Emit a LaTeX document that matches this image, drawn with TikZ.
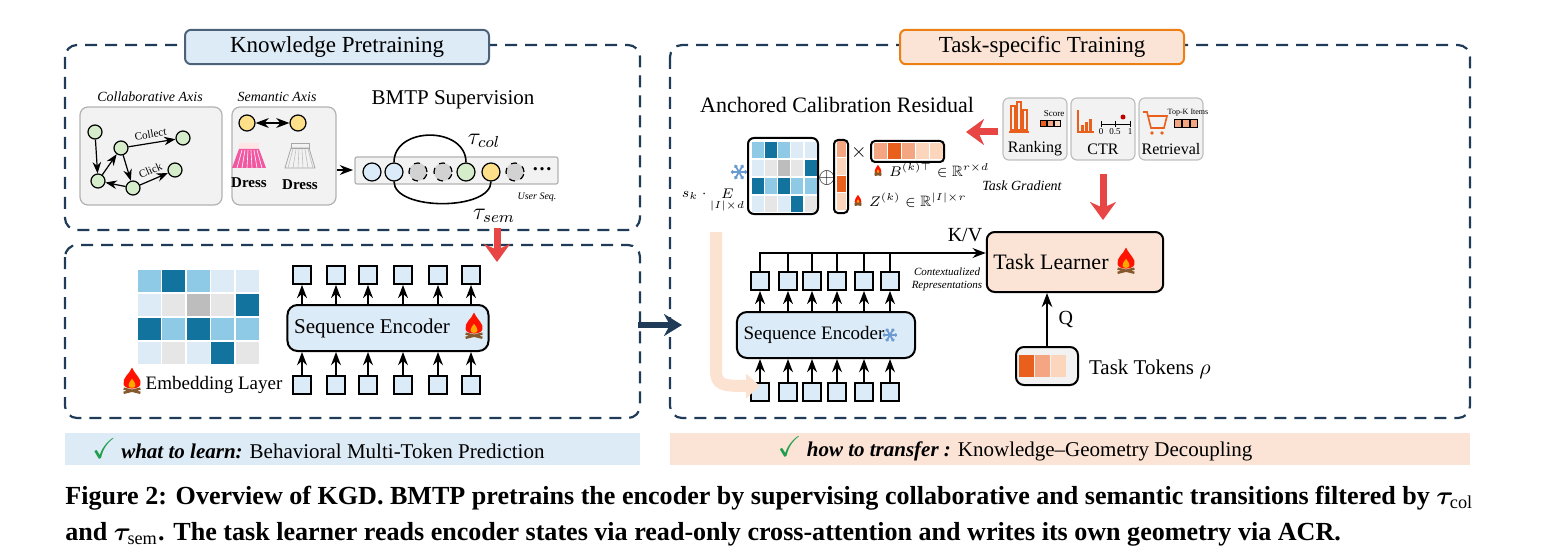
\documentclass[tikz,border=0pt]{standalone}
\usepackage{amsmath, amssymb, bm}
\usepackage{fontspec}
\setmainfont{Liberation Serif}
\usetikzlibrary{positioning, arrows.meta}
\definecolor{navy}{HTML}{1F3B57}
\definecolor{tokblue}{HTML}{DCEBF8}
\definecolor{cA}{HTML}{8ECAE6}
\definecolor{cB}{HTML}{12739E}
\definecolor{cV}{HTML}{DDEBF7}
\definecolor{cG}{HTML}{E6E6E6}
\definecolor{cM}{HTML}{BDBDBD}
\definecolor{peach}{HTML}{FBD5BC}
\definecolor{midor}{HTML}{F4A582}
\definecolor{deepor}{HTML}{E8601C}
\definecolor{salmon}{HTML}{FBE3D6}
\definecolor{redarr}{HTML}{E84545}
\definecolor{itemgreen}{HTML}{D5EDCB}
\definecolor{itemyellow}{HTML}{FFE08A}
\definecolor{snow}{HTML}{6C9BD2}
\definecolor{panelgray}{HTML}{F2F2F2}
\definecolor{checkgreen}{HTML}{1E9E4A}
\newcommand{\redR}{\mathbb{R}}
\newcommand{\padR}[1]{\rule{#1}{0pt}}

\tikzset{
  panel/.style={draw=navy, line width=1.1pt, dash pattern=on 6pt off 4pt, rounded corners=6pt},
  tok/.style={draw, line width=0.9pt, fill=tokblue, minimum size=9pt, inner sep=0pt},
  enc/.style={draw, rounded corners=5pt, fill=tokblue, line width=1pt, font=\fontsize{10.5}{12}\selectfont},
  item/.style={circle, draw, line width=0.6pt, minimum size=9pt, inner sep=0pt},
  axis/.style={draw=gray!60, fill=panelgray, rounded corners=4pt, line width=0.6pt},
  taskbox/.style={draw=gray!50, fill=panelgray, rounded corners=3pt, line width=0.6pt, minimum width=32pt, minimum height=31pt},
  bigred/.style={draw=redarr, line width=3.5pt, -{Stealth[length=9pt, width=13pt]}},
  sm/.style={font=\fontsize{5.5}{6}\selectfont},
  pics/fire/.style={code={
    \begin{scope}[scale=1.4]
    \fill[red!85!orange] (0,-11) .. controls (-2,-6) and (-7,-4) .. (-6,1) .. controls (-5,5) and (5,5) .. (6,1) .. controls (7,-3) and (3,-5) .. (0,-11);
    \fill[orange!70!yellow] (0,-3) .. controls (-1,-1) and (-3,0) .. (-2.5,2) .. controls (-2,4) and (2,4) .. (2.5,2) .. controls (3,0) and (1,-1) .. (0,-3);
    \draw[brown!70!black, line width=1.2pt] (-6,7) -- (6,4) (-6,4) -- (6,7);
    \end{scope}
  }},
  pics/flake/.style={code={
    \foreach \a in {0,60,...,300} {
      \draw[snow, line width=0.9pt] (0,0) -- (\a:8);
      \draw[snow, line width=0.6pt] (\a:5) -- ++(\a+40:2.5) (\a:5) -- ++(\a-40:2.5);
    }
  }},
}

\begin{document}
\begin{tikzpicture}[x=0.5pt, y=-0.5pt, >=Stealth]
  \useasboundingbox (0,0) rectangle (1543,556);

  % panels
  \draw[panel] (65,45) rectangle (640,230);
  \draw[panel] (65,245) rectangle (640,418);
  \draw[panel] (670,45) rectangle (1470,418);
  \node[draw=navy!80, fill=cV, rounded corners=3pt, line width=1pt, minimum width=152pt, minimum height=16pt, font=\fontsize{11.5}{13}\selectfont] (titleL) at (337,47) {Knowledge Pretraining};
  \node[draw=orange!70!brown, fill=salmon, rounded corners=3pt, line width=1pt, minimum width=142pt, minimum height=16pt, font=\fontsize{11.5}{13}\selectfont] (titleR) at (1042,47) {Task-specific Training};

  % collaborative axis
  \draw[axis] (80,107) rectangle (222,205);
  \draw[axis] (232,107) rectangle (336,205);
  \node[font=\fontsize{7}{8}\selectfont\itshape] (collab) at (150,97) {Collaborative Axis};
  \node[font=\fontsize{7}{8}\selectfont\itshape] (semax) at (277,97) {Semantic Axis};
  \node[item, fill=itemgreen, minimum size=7pt] (g1) at (95,132) {};
  \node[item, fill=itemgreen, minimum size=7pt] (g2) at (121,148) {};
  \node[item, fill=itemgreen, minimum size=7pt] (g3) at (183,138) {};
  \node[item, fill=itemgreen, minimum size=7pt] (g4) at (98,181) {};
  \node[item, fill=itemgreen, minimum size=7pt] (g5) at (133,188) {};
  \node[item, fill=itemgreen, minimum size=7pt] (g6) at (175,170) {};
  \draw[->, line width=0.6pt] (g1) -- (g4);
  \draw[->, line width=0.6pt] (g4) -- (g2);
  \draw[->, line width=0.6pt] (g2) -- node[sm, sloped, above=-1pt] {Collect} (g3);
  \draw[->, line width=0.6pt] (g2) -- (g5);
  \draw[->, line width=0.6pt] (g5) -- (g4);
  \draw[->, line width=0.6pt] (g5) -- node[sm, sloped, above=-1pt] {Click} (g6);

  % semantic axis
  \node[item, fill=itemyellow, minimum size=8pt] (y1) at (247,123) {};
  \node[item, fill=itemyellow, minimum size=8pt] (y2) at (298,123) {};
  \draw[<->, line width=0.8pt] (y1) -- (y2);
  \fill[pink!40] (239,143) rectangle (259,149);
  \fill[magenta!55!pink] (239,149) -- (259,149) -- (266,168) -- (232,168) -- cycle;
  \foreach \k in {0,1,...,5} \draw[white, line width=0.3pt] (242+\k*3,150) -- (237+\k*5,168);
  \draw[gray!70, line width=0.4pt] (291,143) rectangle (309,148);
  \draw[gray!70, line width=0.4pt] (291,148) -- (309,148) -- (315,168) -- (285,168) -- cycle;
  \foreach \k in {0,1,...,5} \draw[gray!50, line width=0.3pt] (293+\k*3,149) -- (288+\k*5,168);
  \node[font=\fontsize{7.5}{9}\selectfont\bfseries] (dress1) at (249,183) {Dress};
  \node[font=\fontsize{7.5}{9}\selectfont\bfseries] (dress2) at (300,185) {Dress};

  % user sequence
  \coordinate (seqin) at (337,170);
  \draw[axis, rounded corners=1pt] (355,157) rectangle (558,184);
  \node[item, fill=tokblue] (s1) at (372,172) {};
  \node[item, fill=tokblue] (s2) at (394,172) {};
  \node[item, fill=gray!35, dashed] (s3) at (418,172) {};
  \node[item, fill=gray!35, dashed] (s4) at (443,172) {};
  \node[item, fill=itemgreen] (s5) at (466,172) {};
  \node[item, fill=itemyellow] (s6) at (491,172) {};
  \node[item, fill=gray!35, dashed] (s7) at (515,172) {};
  \node (sdots) at (542,169) {\textbf{\dots}};
  \draw[->, line width=0.8pt] (seqin) -- (353,170);
  \node[sm, font=\fontsize{5}{6}\selectfont\itshape] (useq) at (537,197) {User Seq.};
  \node[font=\fontsize{10.5}{12}\selectfont] (bmtp) at (453,100) {BMTP Supervision};
  \draw[line width=0.8pt] (s2.north) .. controls (394,126) and (466,126) .. (s5.north);
  \draw[line width=0.8pt] (s2.south) .. controls (394,211) and (491,211) .. (s6.south);
  \node[font=\fontsize{12}{14}\selectfont] (tcol) at (484,141) {$\tau_{col}$};
  \node[font=\fontsize{12}{14}\selectfont] (tsem) at (494,216) {$\tau_{sem}$};

  % pretraining supervision arrow
  \coordinate (supA) at (497,228);
  \draw[bigred] (supA) -- (497,262);

  % embedding layer
  \foreach \row [count=\j] in {{cA,cB,cA,cV,cV},{cV,cG,cM,cG,cB},{cB,cA,cB,cA,cA},{cV,cG,cV,cB,cG}}
    \foreach \c [count=\i] in \row
      \filldraw[fill=\c, draw=white, line width=0.8pt] (112.5+\i*24.5,245+\j*24) rectangle ++(24.5,24);
  \pic (fireE) at (132,383) {fire};
  \node[font=\fontsize{9.5}{11}\selectfont] (emb) at (214,385) {Embedding Layer};

  % left encoder
  \node[enc, minimum width=100pt, minimum height=23pt] (encL) at (388,328) {Sequence Encoder\padR{16pt}};
  \pic at (474,328) {fire};
  \foreach \x [count=\i] in {302,336,368,403,438,471} {
    \node[tok] (lt\i) at (\x,275) {};
    \node[tok] (lb\i) at (\x,385) {};
    \draw[->, line width=0.8pt] (lb\i) -- (lb\i |- encL.south);
    \draw[->, line width=0.8pt] (lt\i |- encL.north) -- (lt\i);
  }

  % transfer arrow
  \coordinate (trA) at (638,325);
  \draw[navy, line width=3pt, -{Stealth[length=9pt, width=11pt]}] (trA) -- (682,325);

  % banners
  \node[fill=cV, minimum width=287.5pt, minimum height=16pt, anchor=west] (learnB) at (65,449) {};
  \node[anchor=west, font=\fontsize{10.5}{12}\selectfont] (learnT) at (85,449) {\textcolor{checkgreen}{\Large$\checkmark$}\ \textbf{\textit{what to learn:}} Behavioral Multi-Token Prediction};
  \node[fill=salmon, minimum width=400pt, minimum height=16pt, anchor=west] (transB) at (670,449) {};
  \node[font=\fontsize{10.5}{12}\selectfont] (transT) at (1015,449) {\textcolor{checkgreen}{\Large$\checkmark$}\ \textbf{\textit{how to transfer :}} Knowledge--Geometry Decoupling};

  % anchored calibration residual
  \node[font=\fontsize{11}{13}\selectfont] (acr) at (837,105) {Anchored Calibration Residual};
  \foreach \row [count=\j] in {{cA,cB,cA,cV,cV},{cV,cG,cM,cG,cB},{cB,cA,cB,cA,cA},{cV,cG,cV,cB,cG}}
    \foreach \c [count=\i] in \row
      \filldraw[fill=\c, draw=white, line width=0.6pt] (738+\i*13.2,123+\j*18) rectangle ++(13.2,18);
  \draw[line width=1pt, rounded corners=3pt] (748,138) rectangle (818,214);
  \pic at (739,172) {flake};
  \node[font=\fontsize{7}{8}\selectfont, anchor=east, inner sep=1pt] (sk) at (747,201) {$s_k\cdot\mathop{E}\limits_{|I|\times d}$};
  \node[font=\fontsize{11}{12}\selectfont] (oplus) at (827,178) {$\oplus$};
  \foreach \c [count=\j] in {midor,peach,deepor,peach}
    \filldraw[fill=\c, draw=white, line width=0.5pt] (836,123+\j*17.5) rectangle ++(10,17.5);
  \draw[line width=1pt, rounded corners=2pt] (834,140) rectangle (848,213);
  \node[font=\fontsize{10}{11}\selectfont] (times) at (859,152) {$\times$};
  \foreach \c [count=\i] in {midor,deepor,midor,peach,peach}
    \filldraw[fill=\c, draw=white, line width=0.5pt] (859+\i*14,143) rectangle ++(14,17);
  \draw[line width=1pt, rounded corners=2pt] (871,141) rectangle (944,162);
  \pic[scale=0.4] at (878,171) {fire};
  \node[font=\fontsize{7.5}{9}\selectfont, anchor=west] (blab) at (882,170) {$B^{(k)\top}\in\redR^{r\times d}$};
  \pic[scale=0.4] at (858,201) {fire};
  \node[font=\fontsize{7.5}{9}\selectfont, anchor=west] (zlab) at (862,200) {$Z^{(k)}\in\redR^{|I|\times r}$};

  % task boxes
  \node[taskbox] (rank) at (1035,129) {};
  \node[taskbox] (ctr) at (1103,129) {};
  \node[taskbox] (retr) at (1171,129) {};
  \node[font=\fontsize{8}{9}\selectfont] (rankT) at (1035,149) {Ranking};
  \node[font=\fontsize{8}{9}\selectfont] (ctrT) at (1103,149) {CTR};
  \node[font=\fontsize{8}{9}\selectfont] (retrT) at (1171,149) {Retrieval};
  \draw[deepor, line width=0.6pt] (1009,132) -- (1029,132);
  \foreach \x/\h in {1011/24,1017/28,1023/20} \draw[deepor, line width=0.6pt] (\x,130) rectangle ++(4,-\h);
  \node[font=\fontsize{4.5}{5}\selectfont] (score) at (1054,114) {Score};
  \foreach \c [count=\i] in {deepor,midor,peach} \filldraw[fill=\c, draw=black, line width=0.4pt] (1033+\i*7,120) rectangle ++(6,6);
  \foreach \x/\h in {1081/6,1085/9,1089/12} \fill[deepor] (\x,131) rectangle ++(3,-\h);
  \draw[deepor, line width=0.6pt] (1078,110) -- (1078,132) -- (1094,132);
  \draw[line width=0.4pt] (1101,124) -- (1130,124);
  \foreach \x in {1101,1115,1130} \draw[line width=0.4pt] (\x,121) -- (\x,127);
  \fill[red!75!black] (1123,117) circle (2.5);
  \node[font=\fontsize{4.5}{5}\selectfont] (tick0) at (1101,132) {0};
  \node[font=\fontsize{4.5}{5}\selectfont] (tick1) at (1115,132) {0.5};
  \node[font=\fontsize{4.5}{5}\selectfont] (tick2) at (1130,132) {1};
  \draw[deepor, line width=0.8pt] (1143,112) -- (1147,112) -- (1151,128) -- (1164,128) -- (1167,116) -- (1148,116);
  \fill[deepor] (1152,133) circle (1.8) (1162,133) circle (1.8);
  \node[font=\fontsize{4}{5}\selectfont] (topk) at (1188,113) {Top-K Items};
  \foreach \i in {1,2,3} \filldraw[fill=midor, draw=black, line width=0.4pt] (1166+\i*8,119) rectangle ++(7,8);

  \coordinate (gradA) at (998,132);
  \draw[bigred] (gradA) -- (966,132);
  \node[font=\fontsize{7}{8}\selectfont\itshape] (tgrad) at (1022,186) {Task Gradient};
  \coordinate (gradB) at (1103,174);
  \draw[bigred] (gradB) -- (1103,220);

  % task learner
  \node[draw, fill=salmon, rounded corners=4pt, line width=1pt, minimum width=85.5pt, minimum height=30pt, font=\fontsize{11}{12}\selectfont] (learner) at (1075,262) {Task Learner\padR{24pt}};
  \pic at (1126,263) {fire};
  \node[font=\fontsize{10}{11}\selectfont] (kv) at (965,235) {K/V};
  \node[sm, font=\fontsize{5.5}{6.5}\selectfont\itshape, align=center] (ctx) at (947,279) {Contextualized\\Representations};

  % right encoder
  \node[enc, minimum width=76.5pt, minimum height=23pt, font=\fontsize{9.5}{11}\selectfont] (encR) at (826,335) {Sequence Encoder\padR{12pt}};
  \pic[scale=0.9] at (890,335) {flake};
  \coordinate (kv0) at (759,253);
  \draw[->, line width=0.8pt] (kv0) -- (learner.west |- kv0);
  \foreach \x [count=\i] in {760,788,812,837,864,890} {
    \node[tok] (rt\i) at (\x,281) {};
    \node[tok] (rb\i) at (\x,392) {};
    \draw[->, line width=0.8pt] (rb\i) -- (rb\i |- encR.south);
    \draw[->, line width=0.8pt] (rt\i |- encR.north) -- (rt\i);
    \draw[line width=0.8pt] (rt\i.north) -- (rt\i |- kv0);
  }

  % embedding transfer arrow
  \coordinate (embA) at (716,232);
  \draw[peach!70, line width=6pt, -{Triangle[length=7pt, width=12pt]}] (embA) -- (716,370) .. controls (716,385) and (722,386) .. (760,386);

  % task tokens
  \node[draw, fill=panelgray, rounded corners=4pt, line width=1pt, minimum width=31pt, minimum height=19pt] (ttok) at (1047,366) {};
  \foreach \c [count=\i] in {deepor,midor,peach} \fill[\c] (1003+\i*16,355) rectangle ++(15,22);
  \node[font=\fontsize{10.5}{12}\selectfont, anchor=west] (ttokT) at (1082,369) {Task Tokens $\rho$};
  \draw[->, line width=0.9pt] (ttok.north) -- node[right=2pt, font=\fontsize{10}{11}\selectfont] {Q} (ttok.north |- learner.south);

  % caption
  \node[anchor=north west, inner sep=0pt] (caption) at (65,482) {\resizebox{704pt}{!}{\bfseries\begin{tabular}{@{}l@{}}
    Figure 2: Overview of KGD. BMTP pretrains the encoder by supervising collaborative and semantic transitions filtered by $\bm{\tau}_{\mathrm{col}}$\\[2pt]
    and $\bm{\tau}_{\mathrm{sem}}$. The task learner reads encoder states via read-only cross-attention and writes its own geometry via ACR.
  \end{tabular}}};
\end{tikzpicture}
\end{document}
